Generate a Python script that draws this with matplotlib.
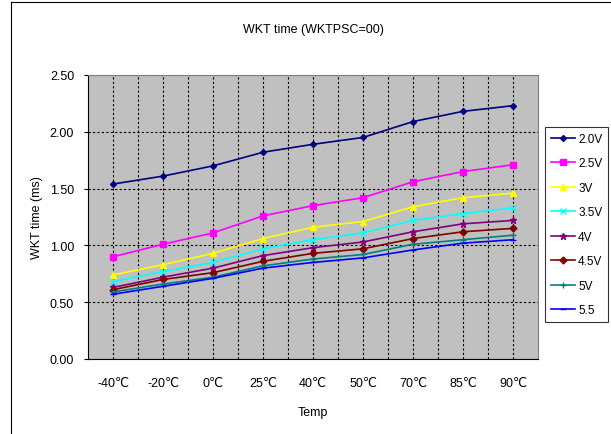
import matplotlib
matplotlib.use("Agg")
import matplotlib.pyplot as plt
from matplotlib.lines import Line2D

plt.rcParams['font.family'] = ['Liberation Sans', 'DejaVu Sans']

categories = ['-40℃', '-20℃', '0℃', '25℃', '40℃', '50℃', '70℃', '85℃', '90℃']
v20 = [1.54, 1.61, 1.70, 1.82, 1.89, 1.95, 2.09, 2.18, 2.23]
v25 = [0.90, 1.01, 1.11, 1.26, 1.35, 1.42, 1.56, 1.65, 1.71]
v30 = [0.74, 0.83, 0.93, 1.06, 1.16, 1.21, 1.34, 1.42, 1.46]
v35 = [0.68, 0.77, 0.85, 0.97, 1.05, 1.11, 1.22, 1.28, 1.33]
v40 = [0.63, 0.72, 0.80, 0.91, 0.98, 1.03, 1.12, 1.19, 1.22]
v45 = [0.61, 0.70, 0.76, 0.86, 0.93, 0.97, 1.06, 1.12, 1.15]
v50 = [0.59, 0.66, 0.72, 0.82, 0.88, 0.92, 1.01, 1.05, 1.09]
v55 = [0.57, 0.64, 0.71, 0.80, 0.85, 0.89, 0.96, 1.02, 1.05]
labels = ['2.0V', '2.5V', '3V', '3.5V', '4V', '4.5V', '5V', '5.5']
series = [v20, v25, v30, v35, v40, v45, v50, v55]
colors = ['#000080', '#FF00FF', '#FFFF00', '#00FFFF', '#800080', '#800000', '#008080', '#0000FF']
markers = ['D', 's', '^', 'x', '*', 'D', '+', '_']
msizes = [3, 4.5, 5, 4, 5, 3.5, 5, 4]

fig = plt.figure(figsize=(6.11, 4.35), dpi=100)
ax = fig.add_axes([88/611, 75/435, (538-88)/611, (360-76)/435])
ax.set_facecolor('#C0C0C0')

x = list(range(len(categories)))
for s, lab, c, m, ms in zip(series, labels, colors, markers, msizes):
    ax.plot(x, s, color=c, marker=m, markersize=ms, linewidth=1.2, label=lab,
            markeredgewidth=1.0)

ax.set_xlim(-0.5, len(categories) - 0.5)
ax.set_ylim(0, 2.5)
ax.set_yticks([0, 0.5, 1.0, 1.5, 2.0, 2.5])
ax.set_yticklabels(['0.00', '0.50', '1.00', '1.50', '2.00', '2.50'])
ax.set_xticks(x)
ax.set_xticklabels(categories)
ax.set_xticks([i + 0.5 for i in x[:-1]], minor=True)

gl = dict(color='black', linestyle=(0, (2, 2)), linewidth=0.8)
ax.grid(True, which='major', axis='both', **gl)
ax.grid(True, which='minor', axis='x', **gl)
ax.tick_params(axis='x', which='both', length=0, pad=13, labelsize=9)
ax.tick_params(axis='y', length=3, pad=7, labelsize=9)
for sp in ['top', 'right']:
    ax.spines[sp].set_color('#808080')
for sp in ['left', 'bottom']:
    ax.spines[sp].set_color('black')

ax.set_title('WKT time (WKTPSC=00)', fontsize=9, pad=31)
ax.set_xlabel('Temp', fontsize=9, labelpad=12)
ax.set_ylabel('WKT time (ms)', fontsize=9, labelpad=5)

leg = fig.legend(loc='upper left', bbox_to_anchor=(545/611, 1 - 128/435),
                 frameon=True, fancybox=False, edgecolor='black', fontsize=8.5,
                 handlelength=2.0, labelspacing=1.06, borderpad=0.5,
                 handletextpad=0.3, borderaxespad=0)
leg.get_frame().set_linewidth(0.8)

fig.add_artist(Line2D([11/611, 11/611], [0, 1 - 3/435], color='black', linewidth=0.8,
                      transform=fig.transFigure))
fig.add_artist(Line2D([11/611, 1], [1 - 3/435, 1 - 3/435], color='black', linewidth=0.8,
                      transform=fig.transFigure))

fig.savefig('out.png', dpi=100)
